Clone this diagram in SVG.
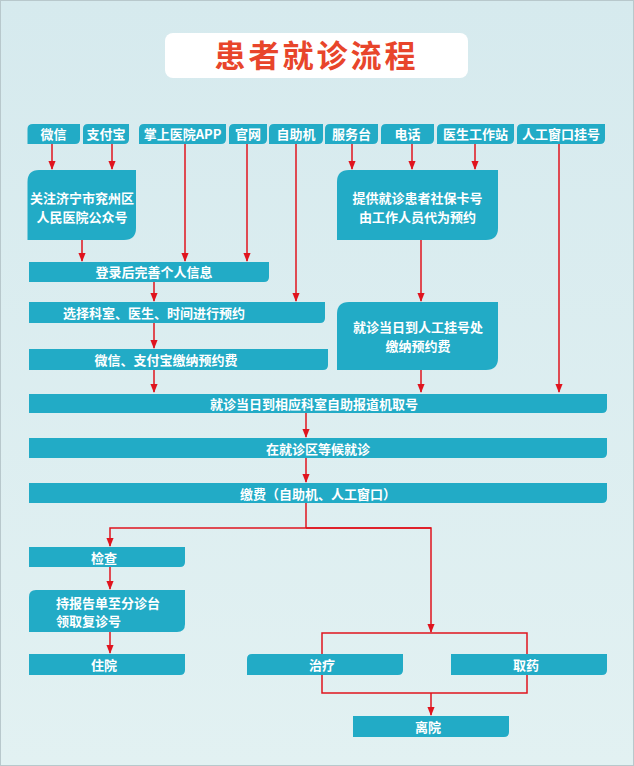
<svg xmlns="http://www.w3.org/2000/svg" width="634" height="766" viewBox="0 0 634 766">
<defs>
<linearGradient id="bg" x1="0" y1="0" x2="0" y2="1"><stop offset="0" stop-color="#d6eaee"/><stop offset="1" stop-color="#e2f1f2"/></linearGradient>
<marker id="a" viewBox="0 0 10 10" refX="9" refY="5" markerWidth="6" markerHeight="6" orient="auto"><path d="M0,1 L10,5 L0,9 Z" fill="#e0141e"/></marker>
<style>
.b{fill:#22abc6}
.t{fill:#fff;font-family:"Noto Sans CJK SC","Liberation Sans",sans-serif;font-weight:bold;font-size:13px;text-anchor:middle}
.c path{fill:none;stroke:#e0141e;stroke-width:1.5}
.c .ar{marker-end:url(#a)}
</style>
</defs>
<rect width="634" height="766" fill="url(#bg)"/>
<rect x="0.5" y="0.5" width="633" height="765" fill="none" stroke="#b8c8cc"/>
<g id="title"><rect x="165" y="33" width="303" height="45" rx="8" fill="#fff"/><text x="316.5" y="67" style="fill:#e8452b;font-family:'Noto Sans CJK SC',sans-serif;font-weight:bold;font-size:31px;text-anchor:middle;letter-spacing:3px">患者就诊流程</text></g>
<g class="c">
<path class="ar" d="M52,144V169"/><path class="ar" d="M112,144V169"/>
<path class="ar" d="M185,144V261"/><path class="ar" d="M247,144V261"/>
<path class="ar" d="M296,144V301"/>
<path class="ar" d="M352,144V169"/><path class="ar" d="M412,144V169"/><path class="ar" d="M475,144V169"/>
<path class="ar" d="M559,144V392"/>
<path class="ar" d="M82,240V261"/>
<path class="ar" d="M154,282V301"/><path class="ar" d="M154,323V348"/><path class="ar" d="M154,370V392"/>
<path class="ar" d="M421,240V301"/><path class="ar" d="M421,370V392"/>
<path class="ar" d="M306,413V437"/><path class="ar" d="M306,458V482"/>
<path d="M306,503V528"/>
<path class="ar" d="M431,528H110V546"/><path class="ar" d="M306,528H431V632"/>
<path class="ar" d="M110,567V589"/><path class="ar" d="M110,632V653"/>
<path d="M322,654V633H527V654"/>
<path d="M322,675V693H527V675"/>
<path class="ar" d="M431,693V715"/>
</g>
<g id="n1"><path class="b" d="M33,124H80V139Q80,144 75,144H27.5V129Q27.5,124 33,124Z"/><text class="t" x="53.5" y="139">微信</text></g>
<g id="n2"><path class="b" d="M88,124H129V139Q129,144 124,144H83V129Q83,124 88,124Z"/><text class="t" x="106" y="139">支付宝</text></g>
<g id="n3"><path class="b" d="M144,124H226V139Q226,144 221,144H139V129Q139,124 144,124Z"/><text class="t" x="182.5" y="139">掌上医院APP</text></g>
<g id="n4"><path class="b" d="M234,124H267V139Q267,144 262,144H229V129Q229,124 234,124Z"/><text class="t" x="248" y="139">官网</text></g>
<g id="n5"><path class="b" d="M274,124H323V139Q323,144 318,144H269V129Q269,124 274,124Z"/><text class="t" x="296" y="139">自助机</text></g>
<g id="n6"><path class="b" d="M330,124H378V139Q378,144 373,144H325V129Q325,124 330,124Z"/><text class="t" x="351.5" y="139">服务台</text></g>
<g id="n7"><path class="b" d="M386,124H434V139Q434,144 429,144H381V129Q381,124 386,124Z"/><text class="t" x="407.5" y="139">电话</text></g>
<g id="n8"><path class="b" d="M442,124H514V139Q514,144 509,144H437V129Q437,124 442,124Z"/><text class="t" x="475.5" y="139">医生工作站</text></g>
<g id="n9"><path class="b" d="M522,124H605V139Q605,144 600,144H517V129Q517,124 522,124Z"/><text class="t" x="561" y="139">人工窗口挂号</text></g>
<g id="n10"><path class="b" d="M39,170H136V228Q136,240 124,240H27.5V182Q27.5,170 39,170Z"/><text class="t" x="82" y="203">关注济宁市兖州区</text><text class="t" x="82" y="222">人民医院公众号</text></g>
<g id="n11"><path class="b" d="M349,170H498V228Q498,240 486,240H337V182Q337,170 349,170Z"/><text class="t" x="417.5" y="203">提供就诊患者社保卡号</text><text class="t" x="417.5" y="222">由工作人员代为预约</text></g>
<g id="n12"><path class="b" d="M29,262H269V277Q269,282 264,282H29Z"/><text class="t" x="154" y="277">登录后完善个人信息</text></g>
<g id="n13"><path class="b" d="M29,302H325V318Q325,323 320,323H29Z"/><text class="t" x="154" y="318">选择科室、医生、时间进行预约</text></g>
<g id="n14"><path class="b" d="M29,349H328V365Q328,370 323,370H29Z"/><text class="t" x="166" y="365">微信、支付宝缴纳预约费</text></g>
<g id="n15"><path class="b" d="M349,302H498V358Q498,370 486,370H337V314Q337,302 349,302Z"/><text class="t" x="418" y="332">就诊当日到人工挂号处</text><text class="t" x="418" y="351">缴纳预约费</text></g>
<g id="n16"><path class="b" d="M29,394H607V408Q607,413 602,413H29Z"/><text class="t" x="314" y="409">就诊当日到相应科室自助报道机取号</text></g>
<g id="n17"><path class="b" d="M29,438H607V453Q607,458 602,458H29Z"/><text class="t" x="318" y="454">在就诊区等候就诊</text></g>
<g id="n18"><path class="b" d="M29,483H607V498Q607,503 602,503H29Z"/><text class="t" x="318" y="499">缴费（自助机、人工窗口）</text></g>
<g id="n19"><path class="b" d="M29,547H185V562Q185,567 180,567H29Z"/><text class="t" x="104" y="563">检查</text></g>
<g id="n20"><path class="b" d="M36,590H185V624Q185,632 177,632H29V597Q29,590 36,590Z"/><text class="t" x="56" y="608" style="text-anchor:start">持报告单至分诊台</text><text class="t" x="56" y="626" style="text-anchor:start">领取复诊号</text></g>
<g id="n21"><path class="b" d="M29,654H185V670Q185,675 180,675H29Z"/><text class="t" x="104" y="670">住院</text></g>
<g id="n22"><path class="b" d="M252,654H403V670Q403,675 398,675H247V659Q247,654 252,654Z"/><text class="t" x="322" y="670">治疗</text></g>
<g id="n23"><path class="b" d="M451,654H607V670Q607,675 602,675H451Z"/><text class="t" x="526" y="670">取药</text></g>
<g id="n24"><path class="b" d="M353,716H509V732Q509,737 504,737H353Z"/><text class="t" x="428" y="732">离院</text></g>
</svg>
